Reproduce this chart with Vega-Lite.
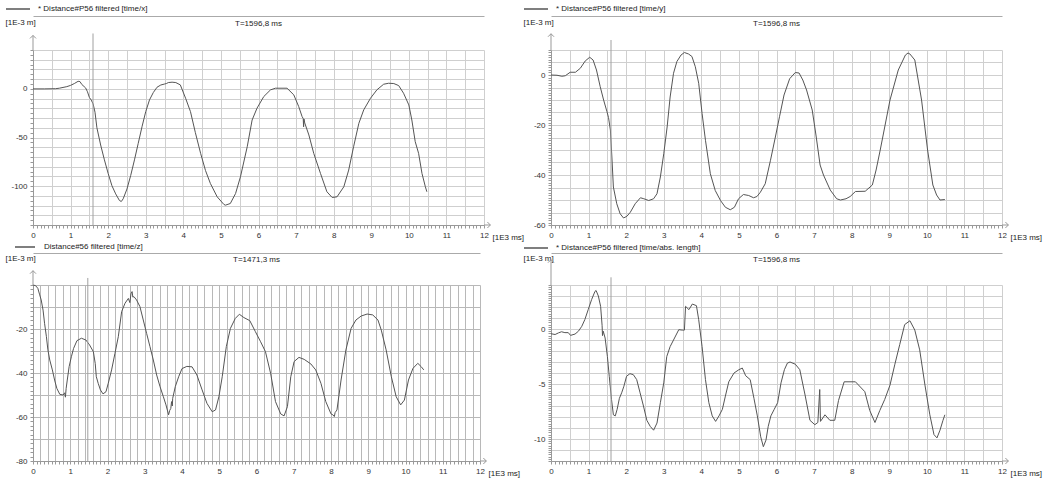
{
"$schema": "https://vega.github.io/schema/vega-lite/v6.json",
"background": "white",
"padding": {"left": 5, "top": 2, "right": 5, "bottom": 2},
"bounds": "flush",
"columns": 2,
"spacing": {"row": 60, "column": 67},
"resolve": {"scale": {"color": "independent"}, "legend": {"color": "independent"}},
"config": {
  "font": "Liberation Sans",
  "view": {"stroke": null},
  "axis": {"labelFont": "Liberation Sans", "labelFontSize": 8, "labelColor": "#333", "domainColor": "#999", "tickColor": "#999", "tickSize": 3, "gridColor": "#cfcfcf", "labelOverlap": false, "labelFlush": false, "labelPadding": 3, "titleFont": "Liberation Sans", "titleFontSize": 8, "titleFontWeight": "normal", "titleColor": "#222"},
  "legend": {"orient": "none", "title": null, "symbolType": "M-2,0H2", "symbolSize": 144, "symbolFillColor": "transparent", "symbolStrokeWidth": 1.5, "labelFont": "Liberation Sans", "labelFontSize": 8, "labelColor": "#222"}
},
"datasets": {
  "one": [{}],
  "c1": [{"t": 1.5968}],
  "c3": [{"t": 1.4713}],
  "p1": [{"t":0,"v":0},{"t":0.3,"v":0},{"t":0.6,"v":0.2},{"t":0.7,"v":0.7},{"t":0.9,"v":2.3},{"t":1.0,"v":3.6},{"t":1.1,"v":5.5},{"t":1.2,"v":7.8},{"t":1.25,"v":7.5},{"t":1.3,"v":4.5},{"t":1.4,"v":1.0},{"t":1.45,"v":-3},{"t":1.5,"v":-8.8},{"t":1.55,"v":-11.5},{"t":1.6,"v":-15.5},{"t":1.65,"v":-24},{"t":1.7,"v":-40},{"t":1.8,"v":-57.7},{"t":1.9,"v":-73},{"t":2.0,"v":-87},{"t":2.1,"v":-99.6},{"t":2.2,"v":-108},{"t":2.3,"v":-114.8},{"t":2.35,"v":-115.8},{"t":2.4,"v":-113},{"t":2.5,"v":-103},{"t":2.6,"v":-89},{"t":2.7,"v":-73},{"t":2.8,"v":-56},{"t":2.9,"v":-39},{"t":3.0,"v":-23.3},{"t":3.1,"v":-11.3},{"t":3.2,"v":-3.8},{"t":3.3,"v":1.7},{"t":3.4,"v":4},{"t":3.5,"v":5},{"t":3.55,"v":5.5},{"t":3.6,"v":6.5},{"t":3.7,"v":6.9},{"t":3.8,"v":6.5},{"t":3.92,"v":4.1},{"t":4.06,"v":-9.6},{"t":4.19,"v":-23.4},{"t":4.32,"v":-45},{"t":4.46,"v":-66.3},{"t":4.59,"v":-84},{"t":4.72,"v":-97.3},{"t":4.9,"v":-111},{"t":5.08,"v":-118.9},{"t":5.12,"v":-119.6},{"t":5.25,"v":-117.9},{"t":5.39,"v":-107.6},{"t":5.52,"v":-90.4},{"t":5.7,"v":-59.5},{"t":5.83,"v":-32},{"t":5.96,"v":-19.9},{"t":6.14,"v":-7.9},{"t":6.32,"v":-1},{"t":6.45,"v":0.7},{"t":6.76,"v":0.7},{"t":6.94,"v":-6.2},{"t":7.07,"v":-18.2},{"t":7.16,"v":-28.5},{"t":7.19,"v":-30.5},{"t":7.2,"v":-39},{"t":7.21,"v":-31},{"t":7.23,"v":-35},{"t":7.34,"v":-47.4},{"t":7.47,"v":-66.3},{"t":7.65,"v":-87},{"t":7.82,"v":-105.8},{"t":7.96,"v":-111.7},{"t":8.09,"v":-111},{"t":8.27,"v":-100.7},{"t":8.4,"v":-83.5},{"t":8.53,"v":-59.5},{"t":8.67,"v":-35.4},{"t":8.8,"v":-21.6},{"t":8.98,"v":-9.6},{"t":9.15,"v":-1},{"t":9.33,"v":4.8},{"t":9.46,"v":5.8},{"t":9.6,"v":5.5},{"t":9.73,"v":3.4},{"t":9.86,"v":-4.5},{"t":10.0,"v":-16.5},{"t":10.08,"v":-32},{"t":10.17,"v":-54.3},{"t":10.26,"v":-66.3},{"t":10.35,"v":-87},{"t":10.44,"v":-100.7},{"t":10.48,"v":-105.8}],
  "p2": [{"t":0,"v":0},{"t":0.16,"v":-0.1},{"t":0.29,"v":-0.5},{"t":0.38,"v":-0.3},{"t":0.51,"v":1.1},{"t":0.65,"v":1.1},{"t":0.78,"v":2.7},{"t":0.91,"v":5.6},{"t":1.03,"v":7.1},{"t":1.12,"v":6.0},{"t":1.21,"v":2.0},{"t":1.31,"v":-4.7},{"t":1.4,"v":-10},{"t":1.49,"v":-14.7},{"t":1.53,"v":-17},{"t":1.58,"v":-22},{"t":1.62,"v":-32.8},{"t":1.66,"v":-44.8},{"t":1.75,"v":-51.5},{"t":1.84,"v":-55.5},{"t":1.93,"v":-57.2},{"t":2.02,"v":-56.5},{"t":2.11,"v":-54.9},{"t":2.24,"v":-51.5},{"t":2.38,"v":-49.1},{"t":2.47,"v":-49.5},{"t":2.6,"v":-50.2},{"t":2.73,"v":-49.5},{"t":2.82,"v":-47.5},{"t":2.91,"v":-40.8},{"t":3.0,"v":-31.5},{"t":3.09,"v":-20.8},{"t":3.17,"v":-8.8},{"t":3.26,"v":0.7},{"t":3.35,"v":5.4},{"t":3.46,"v":8.0},{"t":3.55,"v":9.0},{"t":3.66,"v":8.4},{"t":3.75,"v":7.4},{"t":3.84,"v":3.3},{"t":3.93,"v":-3.3},{"t":4.02,"v":-15.4},{"t":4.11,"v":-26.1},{"t":4.24,"v":-39.5},{"t":4.37,"v":-46.2},{"t":4.51,"v":-50.2},{"t":4.64,"v":-52.9},{"t":4.77,"v":-53.9},{"t":4.88,"v":-52.9},{"t":4.99,"v":-49.5},{"t":5.12,"v":-47.8},{"t":5.26,"v":-48.2},{"t":5.39,"v":-49.1},{"t":5.48,"v":-48.6},{"t":5.57,"v":-46.9},{"t":5.7,"v":-43.5},{"t":5.84,"v":-34.1},{"t":5.97,"v":-24.8},{"t":6.08,"v":-16.7},{"t":6.2,"v":-8},{"t":6.35,"v":-1.5},{"t":6.5,"v":1.0},{"t":6.6,"v":0.8},{"t":6.7,"v":-2},{"t":6.8,"v":-6},{"t":6.95,"v":-14},{"t":7.05,"v":-24},{"t":7.16,"v":-36},{"t":7.25,"v":-40},{"t":7.43,"v":-46},{"t":7.6,"v":-49.5},{"t":7.7,"v":-50},{"t":7.85,"v":-49.5},{"t":7.96,"v":-48.6},{"t":8.1,"v":-46.6},{"t":8.36,"v":-46.5},{"t":8.55,"v":-44},{"t":8.65,"v":-38},{"t":8.76,"v":-30},{"t":9.02,"v":-10},{"t":9.24,"v":2},{"t":9.43,"v":8},{"t":9.5,"v":8.8},{"t":9.55,"v":8.4},{"t":9.68,"v":6},{"t":9.86,"v":-10},{"t":10.02,"v":-30},{"t":10.16,"v":-44},{"t":10.26,"v":-48},{"t":10.35,"v":-50},{"t":10.48,"v":-49.8}],
  "p3": [{"t":0,"v":0},{"t":0.07,"v":-0.3},{"t":0.13,"v":-1.5},{"t":0.18,"v":-4.5},{"t":0.22,"v":-6.8},{"t":0.27,"v":-11.4},{"t":0.31,"v":-17.4},{"t":0.36,"v":-23.5},{"t":0.4,"v":-29.5},{"t":0.45,"v":-34.1},{"t":0.52,"v":-38.6},{"t":0.58,"v":-43.2},{"t":0.64,"v":-47},{"t":0.72,"v":-49.7},{"t":0.81,"v":-50},{"t":0.85,"v":-49},{"t":0.87,"v":-51},{"t":0.89,"v":-47},{"t":0.92,"v":-43.2},{"t":0.97,"v":-37.1},{"t":1.03,"v":-32.6},{"t":1.09,"v":-28.8},{"t":1.18,"v":-25.3},{"t":1.3,"v":-24.2},{"t":1.42,"v":-25},{"t":1.52,"v":-27.3},{"t":1.62,"v":-30.3},{"t":1.67,"v":-35.6},{"t":1.7,"v":-41.7},{"t":1.75,"v":-44.7},{"t":1.81,"v":-47.7},{"t":1.88,"v":-49.5},{"t":1.96,"v":-48.5},{"t":2.02,"v":-44.7},{"t":2.11,"v":-38.6},{"t":2.2,"v":-31.1},{"t":2.29,"v":-23.5},{"t":2.38,"v":-12.1},{"t":2.47,"v":-8.3},{"t":2.56,"v":-6.1},{"t":2.6,"v":-8},{"t":2.63,"v":-4},{"t":2.66,"v":-3},{"t":2.68,"v":-5.5},{"t":2.71,"v":-5.3},{"t":2.78,"v":-6.8},{"t":2.87,"v":-9.8},{"t":2.96,"v":-15.9},{"t":3.05,"v":-22},{"t":3.14,"v":-28},{"t":3.23,"v":-34.1},{"t":3.32,"v":-40.9},{"t":3.41,"v":-46.2},{"t":3.5,"v":-50.8},{"t":3.57,"v":-54.5},{"t":3.64,"v":-59},{"t":3.67,"v":-57},{"t":3.7,"v":-56.1},{"t":3.72,"v":-53},{"t":3.74,"v":-55},{"t":3.75,"v":-51.5},{"t":3.82,"v":-46.2},{"t":3.91,"v":-41.7},{"t":4.0,"v":-38},{"t":4.13,"v":-37},{"t":4.27,"v":-37.2},{"t":4.4,"v":-40.9},{"t":4.54,"v":-47.7},{"t":4.67,"v":-53.8},{"t":4.81,"v":-57.6},{"t":4.9,"v":-56.8},{"t":4.99,"v":-50.8},{"t":5.08,"v":-41.7},{"t":5.19,"v":-28},{"t":5.3,"v":-19.7},{"t":5.43,"v":-15.2},{"t":5.54,"v":-13.3},{"t":5.66,"v":-14.8},{"t":5.82,"v":-16.2},{"t":5.97,"v":-21.2},{"t":6.11,"v":-25.8},{"t":6.24,"v":-30.3},{"t":6.38,"v":-40.2},{"t":6.51,"v":-53},{"t":6.65,"v":-58.6},{"t":6.74,"v":-59.5},{"t":6.83,"v":-55.3},{"t":6.92,"v":-41.7},{"t":7.01,"v":-34.8},{"t":7.14,"v":-32.9},{"t":7.28,"v":-33.8},{"t":7.46,"v":-35.9},{"t":7.59,"v":-38.6},{"t":7.73,"v":-44.7},{"t":7.86,"v":-53},{"t":8.0,"v":-58.6},{"t":8.05,"v":-59},{"t":8.09,"v":-59.8},{"t":8.11,"v":-58},{"t":8.16,"v":-56.8},{"t":8.27,"v":-43.2},{"t":8.4,"v":-29.5},{"t":8.54,"v":-19.7},{"t":8.67,"v":-15.9},{"t":8.81,"v":-14.1},{"t":8.97,"v":-13.2},{"t":9.12,"v":-13.6},{"t":9.26,"v":-15.9},{"t":9.35,"v":-20.5},{"t":9.48,"v":-29.5},{"t":9.62,"v":-41.7},{"t":9.75,"v":-50.8},{"t":9.87,"v":-54.5},{"t":9.97,"v":-52.3},{"t":10.08,"v":-43.2},{"t":10.2,"v":-37.9},{"t":10.33,"v":-35.6},{"t":10.42,"v":-37.1},{"t":10.49,"v":-38.6}],
  "p4": [{"t":0,"v":-0.43},{"t":0.11,"v":-0.5},{"t":0.2,"v":-0.35},{"t":0.28,"v":-0.25},{"t":0.37,"v":-0.33},{"t":0.46,"v":-0.33},{"t":0.52,"v":-0.58},{"t":0.64,"v":-0.46},{"t":0.73,"v":-0.2},{"t":0.82,"v":0.25},{"t":0.9,"v":0.85},{"t":0.99,"v":1.76},{"t":1.08,"v":2.67},{"t":1.17,"v":3.42},{"t":1.2,"v":3.5},{"t":1.26,"v":3.0},{"t":1.32,"v":2.06},{"t":1.36,"v":0.3},{"t":1.37,"v":-0.6},{"t":1.39,"v":-0.2},{"t":1.44,"v":-0.82},{"t":1.5,"v":-2.49},{"t":1.55,"v":-4.3},{"t":1.61,"v":-6.4},{"t":1.66,"v":-7.8},{"t":1.71,"v":-7.9},{"t":1.76,"v":-7.3},{"t":1.82,"v":-6.3},{"t":1.88,"v":-5.8},{"t":1.94,"v":-5.2},{"t":2.01,"v":-4.3},{"t":2.1,"v":-4.06},{"t":2.19,"v":-4.15},{"t":2.28,"v":-4.6},{"t":2.37,"v":-5.8},{"t":2.46,"v":-7.0},{"t":2.55,"v":-8.3},{"t":2.64,"v":-8.85},{"t":2.73,"v":-9.2},{"t":2.82,"v":-8.55},{"t":2.91,"v":-6.7},{"t":3.0,"v":-4.9},{"t":3.08,"v":-2.5},{"t":3.17,"v":-1.6},{"t":3.26,"v":-1.0},{"t":3.4,"v":-0.06},{"t":3.49,"v":-0.1},{"t":3.55,"v":-0.1},{"t":3.58,"v":2.06},{"t":3.67,"v":1.76},{"t":3.76,"v":2.27},{"t":3.87,"v":2.12},{"t":3.93,"v":0.85},{"t":4.02,"v":-1.6},{"t":4.11,"v":-4.6},{"t":4.2,"v":-6.7},{"t":4.29,"v":-7.9},{"t":4.38,"v":-8.4},{"t":4.47,"v":-7.9},{"t":4.56,"v":-7.3},{"t":4.64,"v":-6.1},{"t":4.73,"v":-4.8},{"t":4.87,"v":-4.0},{"t":5.0,"v":-3.7},{"t":5.09,"v":-3.55},{"t":5.18,"v":-4.25},{"t":5.3,"v":-4.6},{"t":5.4,"v":-6.3},{"t":5.49,"v":-7.9},{"t":5.58,"v":-9.8},{"t":5.65,"v":-10.7},{"t":5.72,"v":-10.1},{"t":5.78,"v":-8.85},{"t":5.85,"v":-7.9},{"t":5.94,"v":-7.3},{"t":6.03,"v":-6.7},{"t":6.12,"v":-4.9},{"t":6.21,"v":-3.7},{"t":6.29,"v":-3.1},{"t":6.36,"v":-3.0},{"t":6.5,"v":-3.2},{"t":6.62,"v":-3.7},{"t":6.76,"v":-6},{"t":6.89,"v":-8.3},{"t":7.02,"v":-8.7},{"t":7.1,"v":-8.5},{"t":7.15,"v":-5.5},{"t":7.17,"v":-8.4},{"t":7.29,"v":-7.8},{"t":7.42,"v":-8.3},{"t":7.55,"v":-8.3},{"t":7.65,"v":-6.5},{"t":7.8,"v":-4.8},{"t":8.1,"v":-4.8},{"t":8.35,"v":-5.7},{"t":8.48,"v":-7.4},{"t":8.62,"v":-8.5},{"t":8.75,"v":-7.4},{"t":8.88,"v":-6.4},{"t":9.02,"v":-5.1},{"t":9.15,"v":-3.2},{"t":9.28,"v":-1.4},{"t":9.41,"v":0.4},{"t":9.55,"v":0.75},{"t":9.68,"v":-0.1},{"t":9.81,"v":-1.9},{"t":9.95,"v":-5.1},{"t":10.08,"v":-7.8},{"t":10.19,"v":-9.6},{"t":10.27,"v":-9.9},{"t":10.35,"v":-9.2},{"t":10.43,"v":-8.3},{"t":10.48,"v":-7.8}]
},
"concat": [
{
  "width": 451, "height": 175,
  "resolve": {"axis": {"x": "independent"}},
  "layer": [
    {"data": {"name": "p1"}, "mark": {"type": "line", "strokeWidth": 1},
     "encoding": {
       "x": {"field": "t", "type": "quantitative", "scale": {"domain": [0, 12], "nice": false, "zero": false},
         "axis": {"tickCount": 120, "labelExpr": "abs(datum.value - round(datum.value)) < 1e-6 ? '' + round(datum.value) : ''", "gridOpacity": {"condition": {"test": "abs(datum.value*2 - round(datum.value*2)) < 1e-6", "value": 1}, "value": 0}, "title": "[1E3 ms]", "titleX": 459, "titleY": 12, "titleAlign": "left", "titleBaseline": "middle"}},
       "y": {"field": "v", "type": "quantitative", "scale": {"domain": [-140, 40], "nice": false, "zero": false},
         "axis": {"tickCount": 36, "labelExpr": "abs(datum.value/50 - round(datum.value/50)) < 1e-6 ? '' + round(datum.value) : ''", "gridOpacity": {"condition": {"test": "abs(datum.value/10 - round(datum.value/10)) < 1e-6", "value": 1}, "value": 0}, "title": "[1E-3 m]", "titleAngle": 0, "titleX": -28, "titleY": -28, "titleAlign": "left", "titleBaseline": "middle"}},
       "color": {"datum": "* Distance#P56 filtered [time/x]", "type": "nominal", "scale": {"range": ["#555555"]},
         "legend": {"legendX": -22, "legendY": -48, "labelOffset": 13, "encode": {"symbols": {"update": {"stroke": {"value": "#6b6bb8"}}}}}}
     }},
    {"data": {"name": "c1"}, "mark": {"type": "rule", "color": "#a0a0a0", "strokeWidth": 1},
     "encoding": {
       "x": {"field": "t", "type": "quantitative", "axis": {"orient": "top", "offset": 34, "ticks": false, "labels": false, "grid": false, "domainColor": "#aaaaaa", "title": "T=1596,8 ms", "titleX": 225, "titleY": 7, "titleAlign": "center", "titleBaseline": "middle"}},
       "y": {"datum": 57}, "y2": {"datum": -140}}},
    {"data": {"name": "one"}, "mark": {"type": "rule", "color": "#999999", "strokeWidth": 1},
     "encoding": {"x": {"datum": 0, "type": "quantitative", "axis": null}, "y": {"datum": 40}, "y2": {"datum": 55}}},
    {"data": {"name": "one"}, "mark": {"type": "point", "shape": "M-1,1L0,0L1,1", "size": 36, "filled": false, "color": "#999999", "strokeWidth": 1, "opacity": 1},
     "encoding": {"x": {"datum": 0, "type": "quantitative", "axis": null}, "y": {"datum": 55}}},
    {"data": {"name": "one"}, "mark": {"type": "rule", "color": "#999999", "strokeWidth": 1},
     "encoding": {"x": {"datum": 12, "type": "quantitative", "axis": null}, "x2": {"datum": 12.17}, "y": {"datum": -140}}},
    {"data": {"name": "one"}, "mark": {"type": "point", "shape": "M-1,-1L0,0L-1,1", "size": 36, "filled": false, "color": "#999999", "strokeWidth": 1, "opacity": 1},
     "encoding": {"x": {"datum": 12.17, "type": "quantitative", "axis": null}, "y": {"datum": -140}}}
  ]
},
{
  "width": 451, "height": 175,
  "resolve": {"axis": {"x": "independent"}},
  "layer": [
    {"data": {"name": "p2"}, "mark": {"type": "line", "strokeWidth": 1},
     "encoding": {
       "x": {"field": "t", "type": "quantitative", "scale": {"domain": [0, 12], "nice": false, "zero": false},
         "axis": {"tickCount": 120, "labelExpr": "abs(datum.value - round(datum.value)) < 1e-6 ? '' + round(datum.value) : ''", "gridOpacity": {"condition": {"test": "abs(datum.value*2 - round(datum.value*2)) < 1e-6", "value": 1}, "value": 0}, "title": "[1E3 ms]", "titleX": 459, "titleY": 12, "titleAlign": "left", "titleBaseline": "middle"}},
       "y": {"field": "v", "type": "quantitative", "scale": {"domain": [-60, 10], "nice": false, "zero": false},
         "axis": {"tickCount": 70, "labelExpr": "abs(datum.value/20 - round(datum.value/20)) < 1e-6 ? '' + round(datum.value) : ''", "gridOpacity": {"condition": {"test": "abs(datum.value/5 - round(datum.value/5)) < 1e-6", "value": 1}, "value": 0}, "title": "[1E-3 m]", "titleAngle": 0, "titleX": -28, "titleY": -28, "titleAlign": "left", "titleBaseline": "middle"}},
       "color": {"datum": "* Distance#P56 filtered [time/y]", "type": "nominal", "scale": {"range": ["#555555"]},
         "legend": {"legendX": -22, "legendY": -48, "labelOffset": 13, "encode": {"symbols": {"update": {"stroke": {"value": "#6b6bb8"}}}}}}
     }},
    {"data": {"name": "c1"}, "mark": {"type": "rule", "color": "#a0a0a0", "strokeWidth": 1},
     "encoding": {
       "x": {"field": "t", "type": "quantitative", "axis": {"orient": "top", "offset": 34, "ticks": false, "labels": false, "grid": false, "domainColor": "#aaaaaa", "title": "T=1596,8 ms", "titleX": 225, "titleY": 7, "titleAlign": "center", "titleBaseline": "middle"}},
       "y": {"datum": 14}, "y2": {"datum": -60}}},
    {"data": {"name": "one"}, "mark": {"type": "rule", "color": "#999999", "strokeWidth": 1},
     "encoding": {"x": {"datum": 0, "type": "quantitative", "axis": null}, "y": {"datum": 10}, "y2": {"datum": 16.5}}},
    {"data": {"name": "one"}, "mark": {"type": "point", "shape": "M-1,1L0,0L1,1", "size": 36, "filled": false, "color": "#999999", "strokeWidth": 1, "opacity": 1},
     "encoding": {"x": {"datum": 0, "type": "quantitative", "axis": null}, "y": {"datum": 16.5}}},
    {"data": {"name": "one"}, "mark": {"type": "rule", "color": "#999999", "strokeWidth": 1},
     "encoding": {"x": {"datum": 12, "type": "quantitative", "axis": null}, "x2": {"datum": 12.17}, "y": {"datum": -60}}},
    {"data": {"name": "one"}, "mark": {"type": "point", "shape": "M-1,-1L0,0L-1,1", "size": 36, "filled": false, "color": "#999999", "strokeWidth": 1, "opacity": 1},
     "encoding": {"x": {"datum": 12.17, "type": "quantitative", "axis": null}, "y": {"datum": -60}}}
  ]
},
{
  "width": 447, "height": 176,
  "resolve": {"axis": {"x": "independent"}},
  "layer": [
    {"data": {"name": "p3"}, "mark": {"type": "line", "strokeWidth": 1},
     "encoding": {
       "x": {"field": "t", "type": "quantitative", "scale": {"domain": [0, 12], "nice": false, "zero": false},
         "axis": {"tickCount": 120, "labelExpr": "abs(datum.value - round(datum.value)) < 1e-6 ? '' + round(datum.value) : ''", "gridOpacity": {"condition": {"test": "abs(datum.value*5 - round(datum.value*5)) < 1e-6", "value": 1}, "value": 0}, "gridColor": "#b8b8b8", "title": "[1E3 ms]", "titleX": 455, "titleY": 12, "titleAlign": "left", "titleBaseline": "middle"}},
       "y": {"field": "v", "type": "quantitative", "scale": {"domain": [-80, 0], "nice": false, "zero": false},
         "axis": {"tickCount": 40, "labelExpr": "datum.value < -1 && abs(datum.value/20 - round(datum.value/20)) < 1e-6 ? '' + round(datum.value) : ''", "gridOpacity": {"condition": {"test": "abs(datum.value/5 - round(datum.value/5)) < 1e-6", "value": 1}, "value": 0}, "gridColor": "#b8b8b8", "title": "[1E-3 m]", "titleAngle": 0, "titleX": -28, "titleY": -27, "titleAlign": "left", "titleBaseline": "middle"}},
       "color": {"datum": "Distance#56 filtered [time/z]", "type": "nominal", "scale": {"range": ["#555555"]},
         "legend": {"legendX": -14, "legendY": -44, "symbolSize": 100, "labelOffset": 13, "encode": {"symbols": {"update": {"stroke": {"value": "#3ab8c0"}}}}}}
     }},
    {"data": {"name": "c3"}, "mark": {"type": "rule", "color": "#a0a0a0", "strokeWidth": 1},
     "encoding": {
       "x": {"field": "t", "type": "quantitative", "axis": {"orient": "top", "offset": 32, "ticks": false, "labels": false, "grid": false, "domainColor": "#aaaaaa", "title": "T=1471,3 ms", "titleX": 223, "titleY": 6, "titleAlign": "center", "titleBaseline": "middle"}},
       "y": {"datum": 3.2}, "y2": {"datum": -80}}},
    {"data": {"name": "one"}, "mark": {"type": "rule", "color": "#999999", "strokeWidth": 1},
     "encoding": {"x": {"datum": 0, "type": "quantitative", "axis": null}, "y": {"datum": 0}, "y2": {"datum": 6.5}}},
    {"data": {"name": "one"}, "mark": {"type": "point", "shape": "M-1,1L0,0L1,1", "size": 36, "filled": false, "color": "#999999", "strokeWidth": 1, "opacity": 1},
     "encoding": {"x": {"datum": 0, "type": "quantitative", "axis": null}, "y": {"datum": 6.5}}},
    {"data": {"name": "one"}, "mark": {"type": "rule", "color": "#999999", "strokeWidth": 1},
     "encoding": {"x": {"datum": 12, "type": "quantitative", "axis": null}, "x2": {"datum": 12.17}, "y": {"datum": -80}}},
    {"data": {"name": "one"}, "mark": {"type": "point", "shape": "M-1,-1L0,0L-1,1", "size": 36, "filled": false, "color": "#999999", "strokeWidth": 1, "opacity": 1},
     "encoding": {"x": {"datum": 12.17, "type": "quantitative", "axis": null}, "y": {"datum": -80}}}
  ]
},
{
  "width": 451, "height": 176,
  "resolve": {"axis": {"x": "independent"}},
  "layer": [
    {"data": {"name": "p4"}, "mark": {"type": "line", "strokeWidth": 1},
     "encoding": {
       "x": {"field": "t", "type": "quantitative", "scale": {"domain": [0, 12], "nice": false, "zero": false},
         "axis": {"tickCount": 120, "labelExpr": "abs(datum.value - round(datum.value)) < 1e-6 ? '' + round(datum.value) : ''", "gridOpacity": {"condition": {"test": "abs(datum.value*2 - round(datum.value*2)) < 1e-6", "value": 1}, "value": 0}, "title": "[1E3 ms]", "titleX": 459, "titleY": 12, "titleAlign": "left", "titleBaseline": "middle"}},
       "y": {"field": "v", "type": "quantitative", "scale": {"domain": [-12, 4], "nice": false, "zero": false},
         "axis": {"tickCount": 80, "labelExpr": "abs(datum.value/5 - round(datum.value/5)) < 1e-6 ? '' + round(datum.value) : ''", "gridOpacity": {"condition": {"test": "abs(datum.value - round(datum.value)) < 1e-6", "value": 1}, "value": 0}, "title": "[1E-3 m]", "titleAngle": 0, "titleX": -28, "titleY": -27, "titleAlign": "left", "titleBaseline": "middle"}},
       "color": {"datum": "* Distance#P56 filtered [time/abs. length]", "type": "nominal", "scale": {"range": ["#555555"]},
         "legend": {"legendX": -22, "legendY": -44, "labelOffset": 13, "encode": {"symbols": {"update": {"stroke": {"value": "#6b6bb8"}}}}}}
     }},
    {"data": {"name": "c1"}, "mark": {"type": "rule", "color": "#a0a0a0", "strokeWidth": 1},
     "encoding": {
       "x": {"field": "t", "type": "quantitative", "axis": {"orient": "top", "offset": 32, "ticks": false, "labels": false, "grid": false, "domainColor": "#aaaaaa", "title": "T=1596,8 ms", "titleX": 225, "titleY": 6, "titleAlign": "center", "titleBaseline": "middle"}},
       "y": {"datum": 4.7}, "y2": {"datum": -12}}},
    {"data": {"name": "one"}, "mark": {"type": "rule", "color": "#999999", "strokeWidth": 1},
     "encoding": {"x": {"datum": 0, "type": "quantitative", "axis": null}, "y": {"datum": 4}, "y2": {"datum": 6.3}}},
    {"data": {"name": "one"}, "mark": {"type": "point", "shape": "M-1,1L0,0L1,1", "size": 36, "filled": false, "color": "#999999", "strokeWidth": 1, "opacity": 1},
     "encoding": {"x": {"datum": 0, "type": "quantitative", "axis": null}, "y": {"datum": 6.3}}},
    {"data": {"name": "one"}, "mark": {"type": "rule", "color": "#999999", "strokeWidth": 1},
     "encoding": {"x": {"datum": 12, "type": "quantitative", "axis": null}, "x2": {"datum": 12.17}, "y": {"datum": -12}}},
    {"data": {"name": "one"}, "mark": {"type": "point", "shape": "M-1,-1L0,0L-1,1", "size": 36, "filled": false, "color": "#999999", "strokeWidth": 1, "opacity": 1},
     "encoding": {"x": {"datum": 12.17, "type": "quantitative", "axis": null}, "y": {"datum": -12}}}
  ]
}
]
}
